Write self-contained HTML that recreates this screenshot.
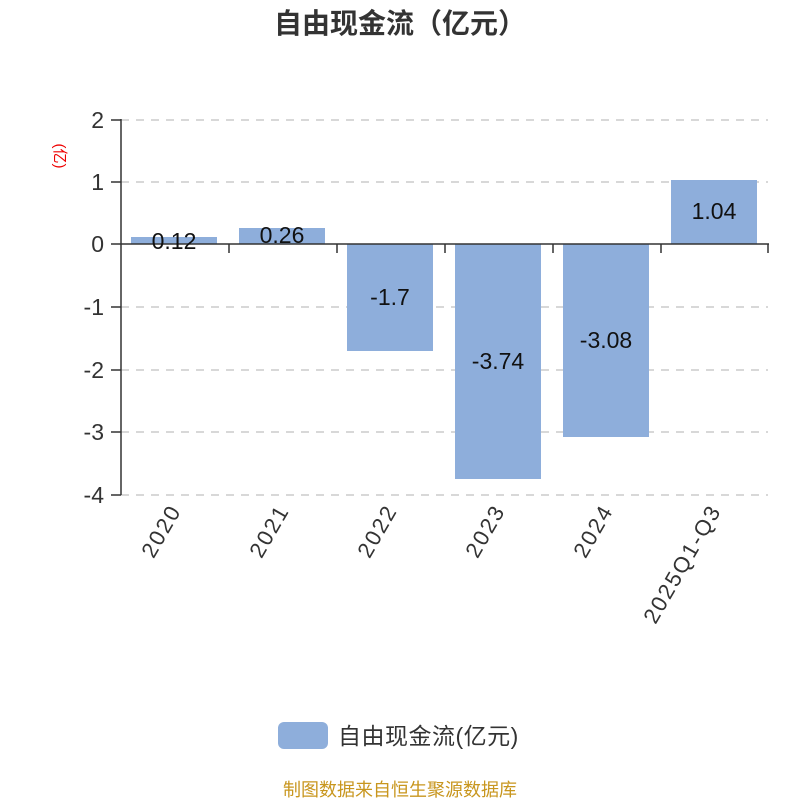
<!DOCTYPE html>
<html><head><meta charset="utf-8"><style>
html,body{margin:0;padding:0;background:#fff;width:800px;height:800px;overflow:hidden}
svg{display:block;font-family:"Liberation Sans","Noto Sans CJK SC",sans-serif}
</style></head><body>
<svg width="800" height="800" viewBox="0 0 800 800">
<text x="400" y="33" text-anchor="middle" font-size="28" font-weight="bold" fill="#333">自由现金流（亿元）</text>
<g stroke="#ccc" stroke-width="1.5" stroke-dasharray="8,7">
<line x1="121" y1="120" x2="768" y2="120"/>
<line x1="121" y1="182" x2="768" y2="182"/>
<line x1="121" y1="307" x2="768" y2="307"/>
<line x1="121" y1="370" x2="768" y2="370"/>
<line x1="121" y1="432" x2="768" y2="432"/>
<line x1="121" y1="495" x2="768" y2="495"/>
</g>
<g fill="#8eaedb">
<rect x="131" y="237" width="86" height="7"/>
<rect x="239" y="228" width="86" height="16"/>
<rect x="347" y="244" width="86" height="107"/>
<rect x="455" y="244" width="86" height="235"/>
<rect x="563" y="244" width="86" height="193"/>
<rect x="671" y="180" width="86" height="64"/>
</g>
<g stroke="#333" stroke-width="1.5" fill="none">
<line x1="121" y1="119" x2="121" y2="495"/>
<line x1="111" y1="120" x2="121" y2="120"/>
<line x1="111" y1="182" x2="121" y2="182"/>
<line x1="111" y1="244" x2="121" y2="244"/>
<line x1="111" y1="307" x2="121" y2="307"/>
<line x1="111" y1="370" x2="121" y2="370"/>
<line x1="111" y1="432" x2="121" y2="432"/>
<line x1="111" y1="495" x2="121" y2="495"/>
<line x1="121" y1="244" x2="769" y2="244"/>
<line x1="229" y1="244" x2="229" y2="253"/>
<line x1="337" y1="244" x2="337" y2="253"/>
<line x1="445" y1="244" x2="445" y2="253"/>
<line x1="553" y1="244" x2="553" y2="253"/>
<line x1="661" y1="244" x2="661" y2="253"/>
<line x1="768" y1="244" x2="768" y2="253"/>
</g>
<g font-size="23" fill="#333" text-anchor="end">
<text x="104" y="128">2</text>
<text x="104" y="190">1</text>
<text x="104" y="252">0</text>
<text x="104" y="315">-1</text>
<text x="104" y="378">-2</text>
<text x="104" y="440">-3</text>
<text x="104" y="503">-4</text>
</g>
<text transform="translate(55,156) rotate(90)" text-anchor="middle" font-size="15" fill="#e00">(亿)</text>
<g font-size="23" fill="#111" text-anchor="middle">
<text x="174" y="249">0.12</text>
<text x="282" y="243">0.26</text>
<text x="390" y="305">-1.7</text>
<text x="498" y="369">-3.74</text>
<text x="606" y="348">-3.08</text>
<text x="714" y="219">1.04</text>
</g>
<g font-size="22" fill="#333" text-anchor="end" letter-spacing="2">
<text transform="translate(182,510) rotate(-60)">2020</text>
<text transform="translate(290,510) rotate(-60)">2021</text>
<text transform="translate(398,510) rotate(-60)">2022</text>
<text transform="translate(506,510) rotate(-60)">2023</text>
<text transform="translate(614,510) rotate(-60)">2024</text>
<text transform="translate(722,510) rotate(-60)">2025Q1-Q3</text>
</g>
<rect x="278" y="722" width="50" height="27" rx="6" fill="#8eaedb"/>
<text x="338" y="744" font-size="23" fill="#333" letter-spacing="0.5">自由现金流(亿元)</text>
<text x="400" y="796" text-anchor="middle" font-size="18" fill="#c8961e">制图数据来自恒生聚源数据库</text>
</svg>
</body></html>
